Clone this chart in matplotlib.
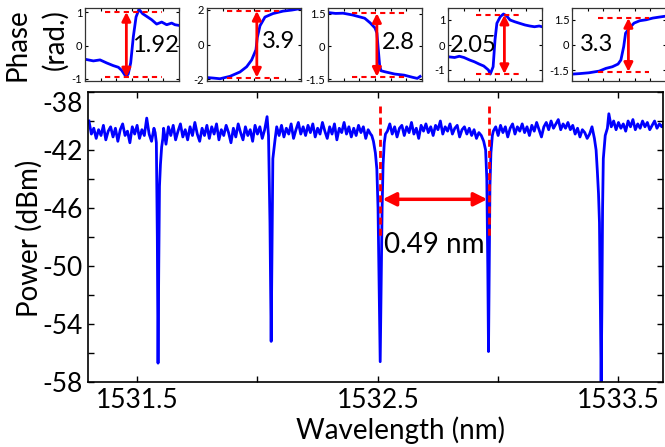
import numpy as np
import matplotlib
matplotlib.use("Agg")
import matplotlib.pyplot as plt

plt.rcParams['font.family'] = ['Lato', 'DejaVu Sans']
plt.rcParams['axes.unicode_minus'] = False

# ---------------- data ----------------
baseline_start = 1531.30
baseline_step = 0.01
baseline_power = [
    -40.0, -40.9, -40.5, -41.2, -40.6, -41.0, -40.3, -41.3, -40.7, -40.4,
    -41.1, -40.5, -41.4, -40.6, -40.2, -41.0, -40.7, -41.5, -40.4, -40.9,
    -40.3, -41.2, -40.6, -41.0, -39.8, -40.9, -41.4, -40.5, -40.2, -41.5,
    -41.2, -40.5, -41.6, -40.4, -41.0, -40.3, -41.3, -40.7, -40.2, -41.1,
    -40.6, -41.3, -40.4, -41.0, -40.1, -40.9, -41.4, -40.5, -41.0, -40.3,
    -41.2, -40.4, -40.9, -40.2, -41.3, -40.6, -41.0, -40.3, -40.8, -41.5,
    -40.5, -41.1, -40.2, -40.8, -41.3, -40.4, -41.0, -40.6, -41.4, -40.3,
    -40.9, -40.4, -41.2, -40.6, -41.0, -40.9, -41.2, -40.6, -40.4, -41.0,
    -40.3, -41.1, -40.5, -40.9, -40.2, -41.2, -40.6, -40.1, -40.9, -40.4,
    -41.0, -40.3, -40.8, -40.2, -41.1, -40.5, -40.9, -40.1, -40.7, -41.2,
    -40.4, -40.9, -40.2, -41.3, -40.5, -40.8, -40.1, -40.9, -40.4, -41.1,
    -40.5, -41.0, -40.3, -40.8, -40.4, -41.2, -40.6, -40.9, -40.7, -41.3,
    -41.5, -41.8, -42.5, -41.2, -40.7, -40.2, -40.9, -40.4, -41.1, -40.5,
    -40.3, -41.0, -40.4, -40.8, -40.1, -40.9, -40.5, -41.2, -40.3, -40.7,
    -40.2, -40.8, -40.4, -41.0, -40.3, -40.6, -40.0, -40.9, -40.4, -40.7,
    -40.2, -40.9, -40.5, -40.3, -41.1, -40.6, -40.4, -40.9, -40.5, -41.0,
    -40.6, -41.2, -40.8, -41.0, -41.4, -41.9, -42.2, -41.6, -40.7, -40.4,
    -41.0, -40.3, -40.8, -40.4, -41.1, -40.5, -40.2, -40.9, -40.4, -40.7,
    -40.2, -40.8, -40.4, -41.0, -40.3, -40.7, -40.1, -40.6, -41.1, -40.4,
    -40.1, -40.6, -40.0, -40.5, -40.2, -39.9, -40.6, -40.2, -40.5, -40.1,
    -40.6, -40.3, -40.9, -40.5, -41.1, -40.6, -40.8, -41.2, -40.9, -40.4,
    -40.8, -41.0, -41.2, -41.5, -42.0, -41.6, -39.5, -40.4, -40.0, -40.6,
    -40.1, -40.5, -40.2, -40.7, -40.0, -40.4, -39.9, -40.6, -40.2, -40.5,
    -40.0, -40.4, -40.1, -40.6, -40.3, -40.0, -40.5, -40.2, -40.4, -40.1,
]

dip1_wl = [1531.575, 1531.580, 1531.584, 1531.587, 1531.590, 1531.593, 1531.597, 1531.602, 1531.607]
dip1_pw = [-40.8, -41.5, -48.0, -56.7, -50.0, -44.5, -43.0, -41.8, -41.2]
dip2_wl = [1532.040, 1532.046, 1532.052, 1532.057, 1532.061, 1532.064, 1532.068, 1532.073]
dip2_pw = [-39.7, -41.0, -47.0, -55.2, -48.0, -42.6, -42.0, -41.3]
dip3_wl = [1532.475, 1532.482, 1532.490, 1532.496, 1532.501, 1532.506, 1532.510, 1532.514, 1532.518, 1532.522, 1532.527, 1532.532]
dip3_pw = [-41.0, -41.4, -42.2, -43.3, -46.0, -52.0, -56.6, -51.0, -46.0, -43.0, -41.5, -40.9]
dip4_wl = [1532.930, 1532.940, 1532.948, 1532.953, 1532.957, 1532.960, 1532.963, 1532.966, 1532.970, 1532.976]
dip4_pw = [-41.0, -41.4, -42.0, -44.0, -50.0, -55.9, -50.0, -44.5, -42.2, -41.0]
dip5_wl = [1533.390, 1533.400, 1533.407, 1533.412, 1533.417, 1533.421, 1533.425, 1533.428, 1533.431, 1533.434, 1533.437, 1533.445, 1533.454]
dip5_pw = [-40.4, -41.2, -42.0, -43.4, -45.0, -47.0, -53.0, -58.2, -53.0, -46.0, -42.6, -41.0, -40.5]

x_ticks = [1531.5, 1532.5, 1533.5]
x_minor = [1532.0, 1533.0]
y_ticks = [-58, -54, -50, -46, -42, -38]

fsr_left, fsr_right, fsr_level = 1532.52, 1532.955, -45.4
marker_wl = [1532.51, 1532.96]
fsr_label = "0.49 nm"

# phase insets (normalised position across the inset, phase in rad)
ph1_x = [0, 0.089, 0.16, 0.23, 0.30, 0.355, 0.39, 0.436, 0.46, 0.486, 0.514, 0.543, 0.574, 0.613, 0.656, 0.709, 0.762, 0.816, 0.869, 0.922, 0.957, 1.0]
ph1_y = [-0.41, -0.46, -0.43, -0.52, -0.60, -0.65, -0.74, -0.93, -0.85, -0.52, 0.26, 0.85, 1.08, 0.95, 0.87, 0.77, 0.64, 0.70, 0.62, 0.67, 0.62, 0.60]
ph2_x = [0, 0.064, 0.138, 0.245, 0.351, 0.422, 0.475, 0.521, 0.535, 0.564, 0.617, 0.702, 0.809, 0.901, 1.0]
ph2_y = [-1.90, -1.93, -1.97, -1.83, -1.58, -1.28, -0.89, -0.30, 0.40, 1.08, 1.58, 1.78, 1.92, 1.98, 2.07]
ph3_x = [0, 0.08, 0.16, 0.26, 0.39, 0.45, 0.50, 0.52, 0.535, 0.55, 0.565, 0.61, 0.71, 0.81, 0.90, 0.95, 0.98]
ph3_y = [1.56, 1.52, 1.53, 1.45, 1.30, 1.08, 0.85, 0.62, -0.14, -0.90, -1.12, -1.17, -1.27, -1.32, -1.42, -1.47, -1.38]
ph4_x = [0, 0.07, 0.12, 0.17, 0.23, 0.28, 0.33, 0.38, 0.43, 0.45, 0.48, 0.50, 0.52, 0.556, 0.59, 0.625, 0.66, 0.71, 0.76, 0.82, 0.87, 0.92, 0.97, 1.0]
ph4_y = [-0.47, -0.50, -0.45, -0.50, -0.60, -0.67, -0.76, -0.84, -1.00, -1.16, -0.87, 0.20, 0.87, 1.13, 1.24, 1.16, 1.00, 0.93, 0.87, 0.80, 0.76, 0.73, 0.76, 0.73]
ph5_x = [0, 0.08, 0.18, 0.29, 0.36, 0.43, 0.49, 0.52, 0.55, 0.57, 0.61, 0.66, 0.72, 0.79, 0.86, 0.93, 0.98]
ph5_y = [-1.74, -1.71, -1.66, -1.56, -1.40, -1.30, -1.14, -0.90, -0.10, 0.70, 1.00, 1.30, 1.44, 1.50, 1.60, 1.66, 1.70]

phase_x = [ph1_x, ph2_x, ph3_x, ph4_x, ph5_x]
phase_y = [ph1_y, ph2_y, ph3_y, ph4_y, ph5_y]
phase_labels = ["1.92", "3.9", "2.8", "2.05", "3.3"]
phase_ylim = [(-1.06, 1.12), (-2.1, 2.1), (-1.59, 1.77), (-1.44, 1.48), (-2.15, 2.2)]
phase_yticks = [[-1, 0, 1], [-2, 0, 2], [-1.5, 0, 1.5], [-1, 0, 1], [-1.5, 0, 1.5]]
phase_yticklabels = [["-1", "0", "1"], ["-2", "0", "2"], ["-1.5", "0", "1.5"], ["-1", "0", "1"], ["-1.5", "0", "1.5"]]
phase_top = [1.0, 1.93, 1.53, 1.21, 1.6]
phase_bot = [-0.95, -1.9, -1.39, -1.16, -1.6]
dash_span = [(0.21, 0.82), (0.21, 0.81), (0.26, 0.83), (0.30, 0.75), (0.28, 0.82)]
arrow_x = [0.44, 0.53, 0.52, 0.60, 0.60]
label_pos = [(0.50, 0.0), (0.58, 0.2), (0.57, 0.17), (0.02, 0.0), (0.08, 0.0)]

# ---------------- figure ----------------
W, H = 665, 447
fig = plt.figure(figsize=(W / 100, H / 100), dpi=100)


def box(x0, y0, x1, y1):
    return [x0 / W, 1 - y1 / H, (x1 - x0) / W, (y1 - y0) / H]


BLUE = '#0000ff'
RED = '#ff0000'

# trace assembly
grid_wl = np.round(baseline_start + baseline_step * np.arange(len(baseline_power)), 3)
grid_pw = np.array(baseline_power)
dips = [(dip1_wl, dip1_pw), (dip2_wl, dip2_pw), (dip3_wl, dip3_pw), (dip4_wl, dip4_pw), (dip5_wl, dip5_pw)]
keep = np.ones(len(grid_wl), bool)
for dwl, _ in dips:
    keep &= ~((grid_wl >= dwl[0] - 1e-9) & (grid_wl <= dwl[-1] + 1e-9))
wl = np.concatenate([grid_wl[keep]] + [np.array(d[0]) for d in dips])
pw = np.concatenate([grid_pw[keep]] + [np.array(d[1]) for d in dips])
order = np.argsort(wl)
wl, pw = wl[order], pw[order]

ax = fig.add_axes(box(88, 92, 663, 382))
ax.plot(wl, pw, color=BLUE, lw=2.0, solid_joinstyle='round')
ax.set_xlim(1531.296, 1533.685)
ax.set_ylim(-58, -38)
ax.set_xticks(x_ticks)
ax.set_xticklabels([f"{v:.1f}" for v in x_ticks])
ax.set_xticks(x_minor, minor=True)
ax.set_yticks(y_ticks)
ax.set_yticklabels([str(v) for v in y_ticks])
ax.set_yticks([-56, -52, -48, -44, -40], minor=True)
ax.tick_params(which='both', direction='in', length=4.5, width=1, top=True, right=True,
               labelsize=19, pad=4)
ax.yaxis.get_major_ticks()[-1].label1.set_va('top')
for s in ax.spines.values():
    s.set_linewidth(1.2)

for mx in marker_wl:
    ax.plot([mx, mx], [-39.0, -48.0], color=RED, lw=2, ls=(0, (2.5, 1.5)))
ax.annotate('', xy=(fsr_left, fsr_level), xytext=(fsr_right, fsr_level),
            arrowprops=dict(arrowstyle='<|-|>', color=RED, lw=2.5, mutation_scale=20,
                            shrinkA=0, shrinkB=0))
ax.text(fsr_left + 0.005, -48.55, fsr_label, fontsize=20, ha='left', va='center')

fig.text(29 / W, 1 - 238 / H, 'Power (dBm)', rotation=90, fontsize=20, ha='center', va='center')
fig.text(400 / W, 1 - 430 / H, 'Wavelength (nm)', fontsize=20, ha='center', va='center')
fig.text(18 / W, 1 - 45 / H, 'Phase', rotation=90, fontsize=20, ha='center', va='center')
fig.text(55 / W, 1 - 40 / H, '(rad.)', rotation=90, fontsize=20, ha='center', va='center')

inset_left = [85, 207, 328, 448, 572]
for i in range(5):
    a = fig.add_axes(box(inset_left[i], 8, inset_left[i] + 94, 81))
    a.plot(phase_x[i], phase_y[i], color=BLUE, lw=2)
    x0, x1 = dash_span[i]
    a.plot([x0, x1], [phase_top[i]] * 2, color=RED, lw=1.5, ls=(0, (2.5, 2)))
    a.plot([x0, x1], [phase_bot[i]] * 2, color=RED, lw=1.5, ls=(0, (2.5, 2)))
    a.annotate('', xy=(arrow_x[i], phase_top[i]), xytext=(arrow_x[i], phase_bot[i]),
               arrowprops=dict(arrowstyle='<|-|>', color=RED, lw=2, mutation_scale=13,
                               shrinkA=0, shrinkB=0))
    lx, ly = label_pos[i]
    a.text(lx, ly, phase_labels[i], fontsize=17, ha='left', va='center')
    a.set_xlim(0, 1)
    a.set_ylim(*phase_ylim[i])
    a.set_yticks(phase_yticks[i])
    a.set_yticklabels(phase_yticklabels[i])
    a.set_xticks(np.linspace(0, 1, 7))
    a.set_xticklabels([])
    a.tick_params(direction='in', length=2.5, width=0.8, top=True, right=True,
                  labelsize=8, pad=2)
    for s in a.spines.values():
        s.set_linewidth(0.9)
        s.set_color('#333333')

fig.savefig('out.png', dpi=100)
